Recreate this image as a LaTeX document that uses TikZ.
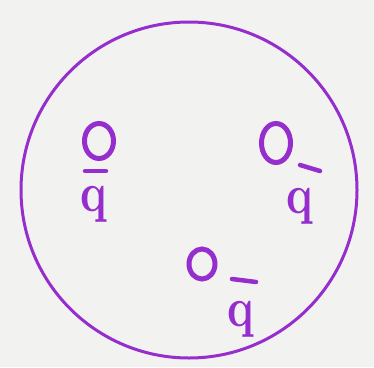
\documentclass[tikz,border=0pt]{standalone}
\usepackage{xcolor}
\usetikzlibrary{shapes.geometric}
\definecolor{markerpurple}{RGB}{150,45,205}
\definecolor{paper}{RGB}{242,243,241}
\newcommand{\quarkq}{\scalebox{4.4}[5.6]{$\mathbf{q}$}}
\begin{document}
\begin{tikzpicture}[
                x=1pt, y=-1pt,
                bag/.style={circle, draw=markerpurple, line width=3pt, minimum size=336pt, inner sep=0pt},
                quark/.style={ellipse, draw=markerpurple, line width=5pt, minimum width=29pt, minimum height=35pt, inner sep=0pt},
                antilabel/.style={text=markerpurple, inner sep=0pt},
                antibar/.style={draw=markerpurple, line width=4.5pt, line cap=round}
            ]
              \fill[paper] (0,0) rectangle (374,367);
              \useasboundingbox (0,0) rectangle (374,367);
              % bag
              \node[bag] (bag) at (189,190) {};
              % quarks
              \node[quark] (quarkA) at (99,141) {};
              \node[quark, minimum height=39pt] (quarkB) at (276,143) {};
              \node[quark, minimum width=26pt, minimum height=30pt] (quarkC) at (202,264) {};
              % labels
              \node[antilabel] (labelA) at (94,204) {\quarkq};
              \node[antilabel] (labelB) at (300,206) {\quarkq};
              \node[antilabel] (labelC) at (241,319) {\quarkq};
              % bars over the labels
              \draw[antibar] ([xshift=-9pt,yshift=33pt]labelA.center) -- ([xshift=12pt,yshift=33pt]labelA.center);
              \draw[antibar] ([xshift=0pt,yshift=41pt]labelB.center) -- ([xshift=20pt,yshift=35pt]labelB.center);
              \draw[antibar] ([xshift=-9pt,yshift=40pt]labelC.center) -- ([xshift=15pt,yshift=37pt]labelC.center);
            \end{tikzpicture}
\end{document}
